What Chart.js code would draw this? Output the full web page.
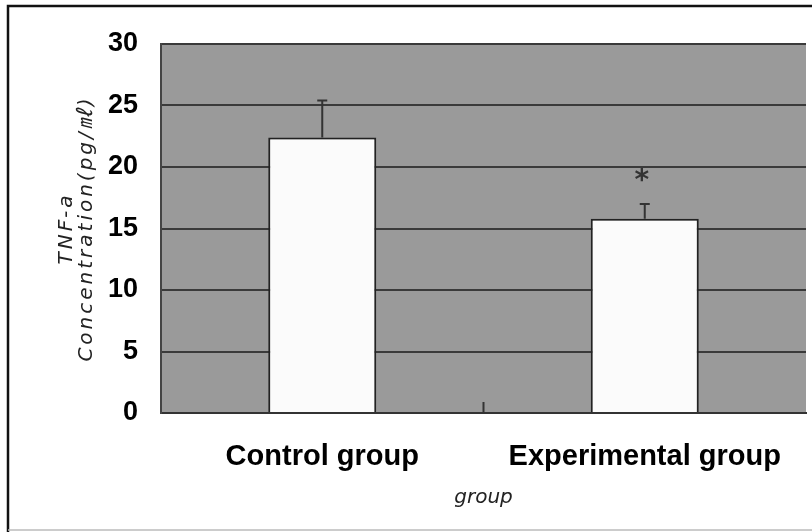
<!DOCTYPE html>
<html>
<head>
<meta charset="utf-8">
<script src="https://cdn.jsdelivr.net/npm/chart.js@4"></script>
<style>
  body { margin: 0; background: #fff; }
  #wrap { width: 812px; height: 532px; position: relative; }
</style>
</head>
<body>
<div id="wrap"><canvas id="tnfChart"></canvas></div>
<script>
// datos
const categories = ['Control group', 'Experimental group'];
const meanValues = [22.4, 15.8];
const errorValues = [3.0, 1.2];
const markLabels = ['', '*'];
const markValues = [null, 19.2];
const yTickMin = 0;
const yTickMax = 30;
const yTickStep = 5;

// fondo gris del área de trazado
const plotBackground = {
    id: 'plotBackground',
    beforeDraw(chart) {
        const { ctx, chartArea: a } = chart;
        ctx.save();
        ctx.fillStyle = '#9a9a9a';
        ctx.fillRect(a.left, a.top, a.right - a.left, a.bottom - a.top);
        ctx.restore();
        // título del eje Y con letras espaciadas
        const s = chart.scales.y;
        if (s && !s._spaced) {
            const orig = s.drawTitle.bind(s);
            s.drawTitle = function () {
                chart.ctx.save();
                chart.ctx.letterSpacing = '3px';
                orig();
                chart.ctx.restore();
            };
            s._spaced = true;
        }
    }
};

// barras de error (solo hacia arriba), asterisco y marco exterior
const extras = {
    id: 'extras',
    afterDatasetsDraw(chart) {
        const { ctx, scales: { x, y } } = chart;
        ctx.save();
        ctx.strokeStyle = '#333';
        ctx.lineWidth = 2;
        meanValues.forEach((v, i) => {
            const cx = x.getPixelForValue(i);
            const y0 = y.getPixelForValue(v);
            const y1 = y.getPixelForValue(v + errorValues[i]);
            ctx.beginPath();
            ctx.moveTo(cx, y0);
            ctx.lineTo(cx, y1);
            ctx.moveTo(cx - 5, y1);
            ctx.lineTo(cx + 5, y1);
            ctx.stroke();
            if (markLabels[i]) {
                ctx.fillStyle = '#333';
                ctx.font = 'bold 28px "DejaVu Sans"';
                ctx.textAlign = 'center';
                ctx.textBaseline = 'middle';
                ctx.fillText(markLabels[i], cx - 3, y.getPixelForValue(markValues[i]) + 5);
            }
        });
        // marca central entre categorías
        const mid = (x.getPixelForValue(0) + x.getPixelForValue(1)) / 2;
        ctx.beginPath();
        ctx.moveTo(mid, y.getPixelForValue(0));
        ctx.lineTo(mid, y.getPixelForValue(0) - 11);
        ctx.stroke();
        ctx.restore();
    },
    afterDraw(chart) {
        const { ctx, width, height } = chart;
        ctx.save();
        ctx.strokeStyle = '#111';
        ctx.lineWidth = 2.5;
        ctx.beginPath();
        ctx.moveTo(8, height);
        ctx.lineTo(8, 6);
        ctx.lineTo(width, 6);
        ctx.stroke();
        ctx.strokeStyle = '#bbb';
        ctx.lineWidth = 1.5;
        ctx.beginPath();
        ctx.moveTo(8, height - 2);
        ctx.lineTo(width, height - 2);
        ctx.stroke();
        ctx.restore();
    }
};

const ctx = document.getElementById('tnfChart').getContext('2d');
const tnfChart = new Chart(ctx, {
    type: 'bar',
    data: {
        labels: categories,
        datasets: [{
            label: 'TNF-a',
            data: meanValues,
            backgroundColor: '#fbfbfb',
            borderColor: '#222',
            borderWidth: 2,
            borderSkipped: 'bottom',
            categoryPercentage: 1,
            barPercentage: 0.335
        }]
    },
    options: {
        responsive: true,
        maintainAspectRatio: false,
        animation: false,
        layout: { padding: { left: 0, top: 44, right: 6, bottom: 0 } },
        plugins: {
            legend: { display: false },
            tooltip: { enabled: false }
        },
        scales: {
            x: {
                grid: { display: false },
                border: { display: true, color: '#333', width: 2 },
                ticks: {
                    color: '#000',
                    padding: 19,
                    font: { family: '"Liberation Sans", Arial', size: 29, weight: 'bold' }
                },
                title: {
                    display: true,
                    text: 'group',
                    color: '#222',
                    padding: { top: 0, bottom: 22 },
                    font: { family: '"DejaVu Sans"', size: 20, style: 'italic', lineHeight: 1.2 }
                },
                afterFit(scale) { scale.height = 119; }
            },
            y: {
                min: yTickMin,
                max: yTickMax,
                ticks: {
                    stepSize: yTickStep,
                    color: '#000',
                    padding: 23,
                    font: { family: '"Liberation Sans", Arial', size: 27, weight: 'bold' }
                },
                grid: { color: '#3a3a3a', lineWidth: 2, drawTicks: false },
                border: { display: true, color: '#444', width: 2 },
                title: {
                    display: true,
                    text: ['TNF-a', 'Concentration(pg/㎖)'],
                    color: '#222',
                    padding: { top: 57, bottom: 0 },
                    font: { family: '"DejaVu Sans", "Noto Sans CJK KR"', size: 20, style: 'italic', lineHeight: 1.0 }
                },
                afterFit(scale) { scale.width = 161; }
            }
        }
    },
    plugins: [plotBackground, extras]
});
</script>
</body>
</html>
